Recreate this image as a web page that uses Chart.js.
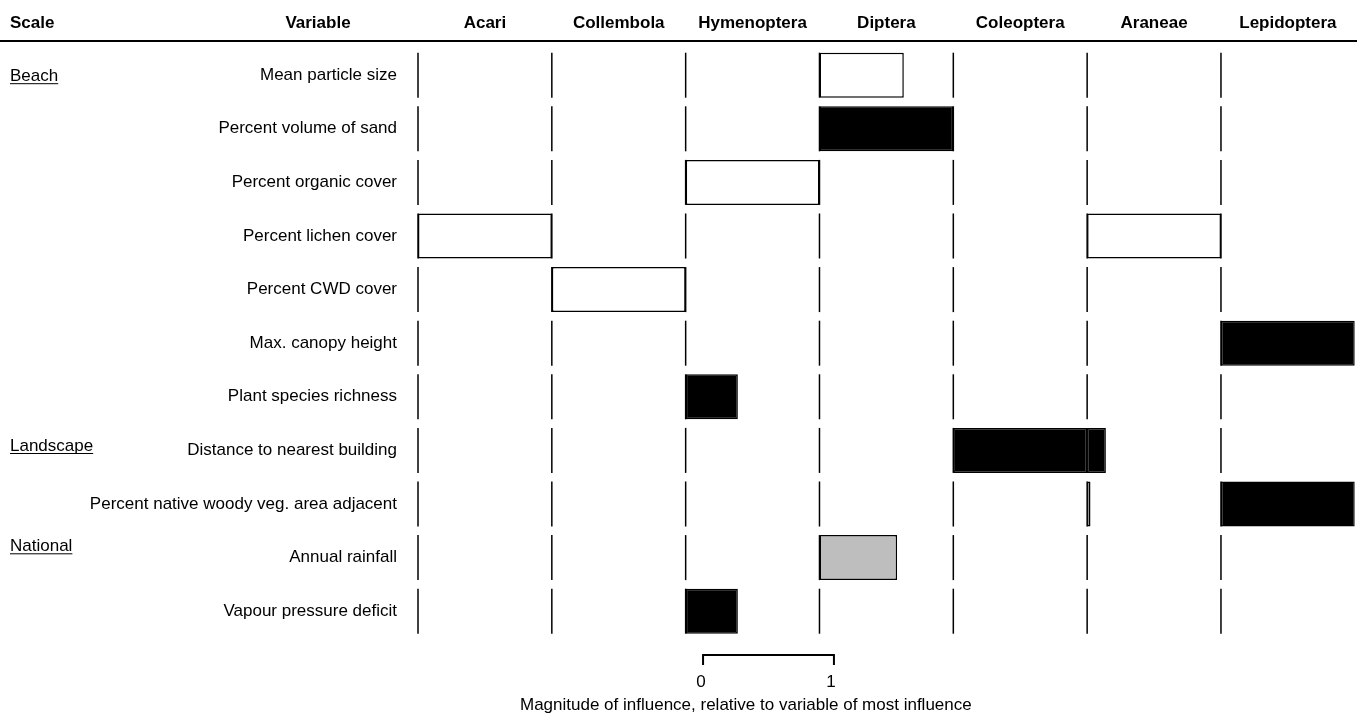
<!DOCTYPE html>
<html><head><meta charset="utf-8">
<script src="https://cdn.jsdelivr.net/npm/chart.js@4.4.1/dist/chart.umd.min.js"></script>
<style>html,body{margin:0;padding:0;background:#fff;overflow:hidden}#wrap{width:1362px;height:716px}</style>
</head><body><div id="wrap"><canvas id="c" width="1362" height="716"></canvas></div>
<script>
// ---------- data ----------
const taxa = ['Acari','Collembola','Hymenoptera','Diptera','Coleoptera','Araneae','Lepidoptera'];
const variables = ['Mean particle size','Percent volume of sand','Percent organic cover','Percent lichen cover',
  'Percent CWD cover','Max. canopy height','Plant species richness','Distance to nearest building',
  'Percent native woody veg. area adjacent','Annual rainfall','Vapour pressure deficit'];
const scaleLabels = ['Beach','Landscape','National'];
const scaleRows = [0, 7, 9];
const scaleTicks = ['0','1'];
const axisTitle = 'Magnitude of influence, relative to variable of most influence';

// magnitude of influence per variable (null = no bar)
const acari       = [null,null,null,1.0,null,null,null,null,null,null,null];
const collembola  = [null,null,null,null,1.0,null,null,null,null,null,null];
const hymenoptera = [null,null,1.0,null,null,null,0.39,null,null,null,0.39];
const diptera     = [0.63,1.0,null,null,null,null,null,null,null,0.58,null];
const coleoptera  = [null,null,null,null,null,null,null,1.0,null,null,null];
const araneae     = [null,null,null,1.0,null,null,null,0.14,0.025,null,null];
const lepidoptera = [null,null,null,null,null,1.0,null,null,1.0,null,null];
// fill type per variable: w = white, b = black, g = grey
const acariFill       = ['','','','w','','','','','','',''];
const collembolaFill  = ['','','','','w','','','','','',''];
const hymenopteraFill = ['','','w','','','','b','','','','b'];
const dipteraFill     = ['w','b','','','','','','','','g',''];
const coleopteraFill  = ['','','','','','','','b','','',''];
const araneaeFill     = ['','','','w','','','','b','w','',''];
const lepidopteraFill = ['','','','','','b','','','b','',''];

const magnitudes = [acari,collembola,hymenoptera,diptera,coleoptera,araneae,lepidoptera];
const fills = [acariFill,collembolaFill,hymenopteraFill,dipteraFill,coleopteraFill,araneaeFill,lepidopteraFill];
const fillColor = {w:'#ffffff', b:'#000000', g:'#bebebe', '':'#ffffff'};

// ---------- chart ----------
const FONT = "'Liberation Sans', Arial, Helvetica, sans-serif";
Chart.defaults.font.family = FONT;
Chart.defaults.color = '#000';
const BAR_FRAC = 0.84;

const datasets = taxa.map((t, i) => ({
  label: t,
  data: magnitudes[i].map(v => v == null ? null : [i, i + v]),
  backgroundColor: fills[i].map(f => fillColor[f]),
  borderColor: '#000',
  borderWidth: 1.5,
  borderSkipped: false,
  barPercentage: BAR_FRAC,
  categoryPercentage: 1.0,
  grouped: false
}));

const decor = {
  id: 'decor',
  afterDatasetsDraw(chart) {
    const ctx = chart.ctx, xs = chart.scales.x, ys = chart.scales.y;
    const step = ys.getPixelForValue(1) - ys.getPixelForValue(0);
    const half = step * BAR_FRAC / 2;
    ctx.save();
    ctx.strokeStyle = '#000';
    ctx.lineWidth = 1.5;
    taxa.forEach((t, i) => {
      const x = xs.getPixelForValue(i);
      variables.forEach((v, j) => {
        const yc = ys.getPixelForValue(j);
        ctx.beginPath();
        ctx.moveTo(x, yc - half);
        ctx.lineTo(x, yc + half);
        ctx.stroke();
      });
    });
    ctx.restore();
  },
  afterDraw(chart) {
    const ctx = chart.ctx, xs = chart.scales.x, ys = chart.scales.y, ca = chart.chartArea;
    ctx.save();
    ctx.fillStyle = '#000';
    ctx.strokeStyle = '#000';
    // header
    ctx.font = 'bold 17px ' + FONT;
    ctx.textBaseline = 'alphabetic';
    ctx.textAlign = 'left';
    ctx.fillText('Scale', 10, 28);
    ctx.textAlign = 'center';
    ctx.fillText('Variable', 318, 28);
    taxa.forEach((t, i) => ctx.fillText(t, xs.getPixelForValue(i + 0.5), 28));
    ctx.lineWidth = 2;
    ctx.beginPath(); ctx.moveTo(0, 41); ctx.lineTo(1357, 41); ctx.stroke();
    // scale group labels (underlined)
    ctx.font = '17px ' + FONT;
    ctx.textAlign = 'left';
    ctx.lineWidth = 1;
    const offs = [6, 0.6, -6.3];
    scaleLabels.forEach((s, k) => {
      const yb = ys.getPixelForValue(scaleRows[k]) + offs[k];
      ctx.fillText(s, 10, yb);
      const w = ctx.measureText(s).width;
      ctx.beginPath(); ctx.moveTo(10, yb + 2.5); ctx.lineTo(10 + w, yb + 2.5); ctx.stroke();
    });
    // scale bar
    const x0 = xs.getPixelForValue(2.13), x1 = xs.getPixelForValue(3.108);
    const yb = ca.bottom + 17;
    ctx.lineWidth = 2;
    ctx.beginPath();
    ctx.moveTo(x0, yb + 10); ctx.lineTo(x0, yb); ctx.lineTo(x1, yb); ctx.lineTo(x1, yb + 10);
    ctx.stroke();
    ctx.textAlign = 'center';
    ctx.fillText(scaleTicks[0], x0 - 2, 687);
    ctx.fillText(scaleTicks[1], x1 - 3, 687);
    ctx.font = '17px ' + FONT;
    ctx.textAlign = 'left';
    ctx.fillText(axisTitle, 520, 710);
    ctx.restore();
  }
};

new Chart(document.getElementById('c'), {
  type: 'bar',
  data: { labels: variables, datasets },
  options: {
    indexAxis: 'y',
    responsive: false,
    animation: false,
    events: [],
    layout: { padding: { top: 48.4, bottom: 78, left: 0, right: 7.2 } },
    plugins: { legend: { display: false }, tooltip: { enabled: false } },
    scales: {
      x: { type: 'linear', min: 0, max: 7, display: false },
      y: {
        type: 'category',
        grid: { display: false, drawTicks: false },
        border: { display: false },
        ticks: { color: '#000', font: { size: 17, family: FONT }, padding: 21, autoSkip: false },
        afterFit(scale) { scale.width = 418; }
      }
    }
  },
  plugins: [decor]
});
</script>
</body></html>
